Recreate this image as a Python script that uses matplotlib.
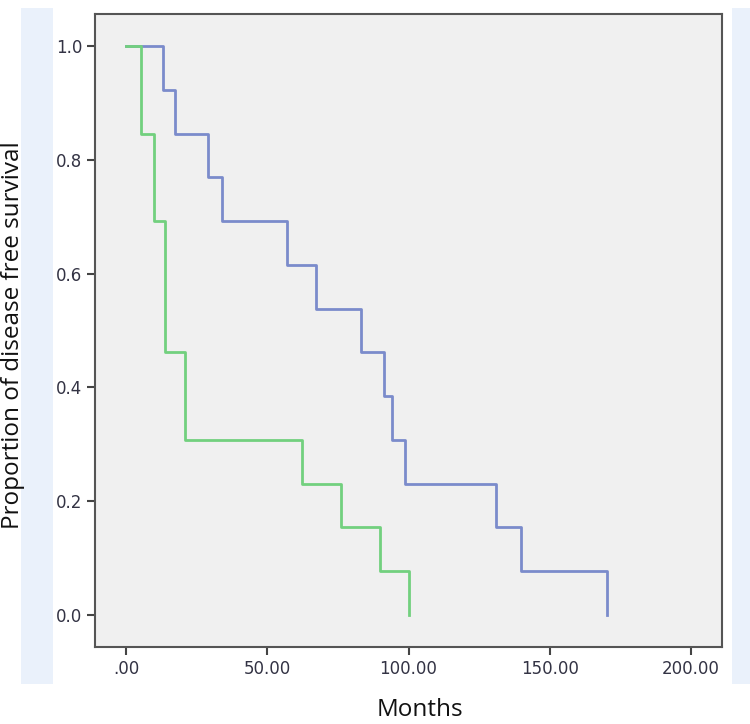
import matplotlib.pyplot as plt
from matplotlib.patches import Rectangle

# event times (months) and survival proportion after each step
blue_times = [0, 13.1, 17.3, 29.0, 34.0, 57.0, 67.3, 83.2, 91.3, 94.2, 98.8, 131.0, 139.8, 170.3]
blue_surv = [1.0, 0.923, 0.846, 0.769, 0.692, 0.615, 0.538, 0.462, 0.385, 0.308, 0.231, 0.154, 0.077, 0.0]

green_times = [0, 5.3, 9.9, 13.8, 20.9, 62.3, 76.1, 89.9, 100.2]
green_surv = [1.0, 0.846, 0.692, 0.462, 0.308, 0.231, 0.154, 0.077, 0.0]

x_ticks = [0, 50, 100, 150, 200]
x_labels = ['.00', '50.00', '100.00', '150.00', '200.00']
y_ticks = [0.0, 0.2, 0.4, 0.6, 0.8, 1.0]
y_labels = ['0.0', '0.2', '0.4', '0.6', '0.8', '1.0']

W, H = 750, 724
fig = plt.figure(figsize=(W / 100, H / 100), dpi=100)
fig.patch.set_facecolor('white')

# light blue side strips
for x0, x1 in [(21, 53), (732, 752)]:
    fig.patches.append(Rectangle((x0 / W, 1 - 684 / H), (x1 - x0) / W, (684 - 8) / H,
                                 transform=fig.transFigure, facecolor='#eaf1fb',
                                 edgecolor='none', zorder=0))

ax = fig.add_axes([95 / W, 1 - 647 / H, (722 - 95) / W, (647 - 14) / H])
ax.set_facecolor('#f0f0f0')

ax.step(blue_times, blue_surv, where='post', color='#7b8bcb', lw=2)
ax.step(green_times, green_surv, where='post', color='#72d07e', lw=2)

ax.set_xlim(-11, 211)
ax.set_ylim(-0.056, 1.056)
ax.set_xticks(x_ticks)
ax.set_xticklabels(x_labels)
ax.set_yticks(y_ticks)
ax.set_yticklabels(y_labels)
ax.tick_params(axis='both', length=6, width=1.5, color='#444444', labelsize=12,
               labelcolor='#333344', pad=3)

for s in ax.spines.values():
    s.set_color('#555555')
    s.set_linewidth(1.5)

fig.text(13 / W, 1 - 335 / H, 'Proportion of disease free survival', rotation=90,
         ha='center', va='center', fontsize=17.5, family='Open Sans', color='#111111')
fig.text(420 / W, 1 - 710 / H, 'Months', ha='center', va='center', fontsize=17.5,
         family='Open Sans', color='#111111')

fig.savefig('out.png', dpi=100)
